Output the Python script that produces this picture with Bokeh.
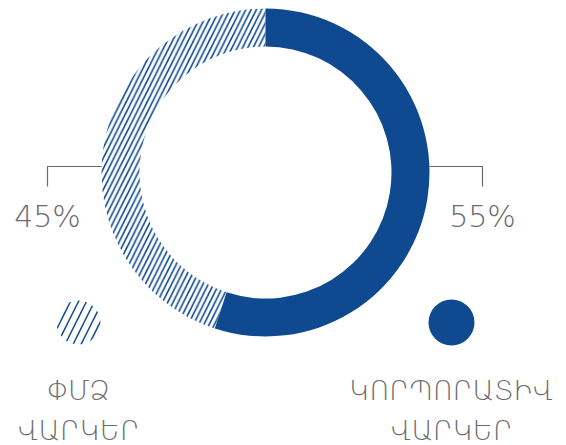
import math
from bokeh.plotting import figure
from bokeh.models import Range1d
from bokeh.core.properties import value
from bokeh.embed import file_html
from bokeh.resources import INLINE

# ---- data ----
categories = ["ԿՈՐՊՈՐԱՏԻՎ\nՎԱՐԿԵՐ", "ՓՄՁ\nՎԱՐԿԵՐ"]
shares = [55, 45]
pct_labels = ["55%", "45%"]

BLUE = "#0f4a90"
GRAY = "#6b6b6e"
FONT = "DejaVu Sans Light"
W, H = 566, 445

def X(sx):
    return sx

def Y(sy):
    return H - sy

p = figure(width=W, height=H, output_backend="svg", toolbar_location=None,
           x_range=Range1d(0, W), y_range=Range1d(0, H),
           x_axis_location=None, y_axis_location=None, min_border=0)
p.grid.visible = False
p.outline_line_color = None

cx, cy = X(265), Y(172)
R_out, R_in = 164, 126
start = math.radians(90)
total = sum(shares)
angles = []
a = start
for s in shares:
    b = a - s / total * 2 * math.pi
    angles.append((a, b))
    a = b

# solid slice
p.annular_wedge(x=[cx], y=[cy], inner_radius=R_in, outer_radius=R_out,
                start_angle=[angles[0][0]], end_angle=[angles[0][1]], direction="clock",
                fill_color=BLUE, line_color=None)
# hatched slice
p.annular_wedge(x=[cx], y=[cy], inner_radius=R_in, outer_radius=R_out,
                start_angle=[angles[1][0]], end_angle=[angles[1][1]], direction="clock",
                fill_color=None, line_color=None, hatch_pattern="/",
                hatch_color=BLUE, hatch_scale=10.5, hatch_weight=1.6)

# leader lines and percent labels
ly = Y(166)
lab_y = Y(216)
dx = math.sqrt(R_out**2 - (ly - cy)**2)
rx_elbow, lx_elbow = X(482), X(47)
p.line([cx + dx, rx_elbow, rx_elbow], [ly, ly, Y(186)], line_color=GRAY, line_width=1.2)
p.line([cx - dx, lx_elbow, lx_elbow], [ly, ly, Y(186)], line_color=GRAY, line_width=1.2)
p.text(x=[rx_elbow, lx_elbow], y=[lab_y, lab_y], text=pct_labels,
       text_font=value(FONT), text_font_size="30px",
       text_color=GRAY, text_align="center", text_baseline="alphabetic")

# legend
leg_x = [X(451), X(78)]
leg_y = Y(322)
p.circle(x=[leg_x[0]], y=[leg_y], radius=23, fill_color=BLUE, line_color=None)
p.circle(x=[leg_x[1]], y=[leg_y], radius=22, fill_color=None, line_color=None,
         hatch_pattern="/", hatch_color=BLUE, hatch_scale=16, hatch_weight=1.5)
p.text(x=leg_x, y=[Y(374), Y(374)], text=categories,
       text_font=value(FONT), text_font_size="27px",
       text_color=GRAY, text_align="center", text_baseline="top", text_line_height=1.3)

open("out.html", "w").write(file_html(p, INLINE))
